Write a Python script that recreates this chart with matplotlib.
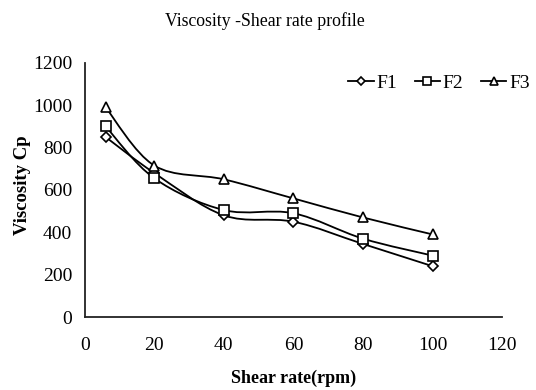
import numpy as np
import matplotlib
matplotlib.use('Agg')
import matplotlib.pyplot as plt
from matplotlib.path import Path
from matplotlib.patches import PathPatch
from matplotlib.lines import Line2D

# data
shear_rate = [6, 20, 40, 60, 80, 100]
f1 = [850, 680, 480, 450, 345, 240]
f2 = [900, 655, 505, 490, 370, 290]
f3 = [990, 715, 650, 560, 470, 390]
series_names = ['F1', 'F2', 'F3']
markers = ['D', 's', '^']
marker_sizes = [5, 7.5, 7.5]
legend_marker_sizes = [4, 5.5, 5.5]

plt.rcParams['font.family'] = ['Liberation Serif', 'DejaVu Serif']


def smooth_path(xs, ys):
    # bezier path through the points, like a spreadsheet "smoothed line"
    xs = np.asarray(xs, float)
    ys = np.asarray(ys, float)
    verts = [(xs[0], ys[0])]
    codes = [Path.MOVETO]
    n = len(xs)
    for i in range(n - 1):
        x0, y0 = (xs[i - 1], ys[i - 1]) if i > 0 else (xs[i], ys[i])
        x3, y3 = (xs[i + 2], ys[i + 2]) if i + 2 < n else (xs[i + 1], ys[i + 1])
        c1 = (xs[i] + (xs[i + 1] - x0) / 6, ys[i] + (ys[i + 1] - y0) / 6)
        c2 = (xs[i + 1] - (x3 - xs[i]) / 6, ys[i + 1] - (y3 - ys[i]) / 6)
        verts += [c1, c2, (xs[i + 1], ys[i + 1])]
        codes += [Path.CURVE4, Path.CURVE4, Path.CURVE4]
    return Path(verts, codes)


fig = plt.figure(figsize=(5.36, 3.90), dpi=100)
ax = fig.add_axes([0.158, 0.187, 0.779, 0.652])

handles = []
for name, vals, m, ms, lms in zip(series_names, [f1, f2, f3], markers,
                                  marker_sizes, legend_marker_sizes):
    patch = PathPatch(smooth_path(shear_rate, vals), facecolor='none',
                      edgecolor='black', lw=1.3, zorder=2)
    ax.add_patch(patch)
    ax.plot(shear_rate, vals, linestyle='none', marker=m, markersize=ms,
            markerfacecolor='white', markeredgecolor='black',
            markeredgewidth=1.2, zorder=3)
    handles.append(Line2D([], [], color='black', lw=1.3, marker=m,
                          markersize=lms, markerfacecolor='white',
                          markeredgecolor='black', markeredgewidth=1.2,
                          label=name))

ax.set_xlim(0, 120)
ax.set_ylim(0, 1200)
ax.set_xticks(np.arange(0, 121, 20))
ax.set_yticks(np.arange(0, 1201, 200))
ax.tick_params(length=0, labelsize=14)
ax.tick_params(axis='y', pad=9)
ax.tick_params(axis='x', pad=14)
for s in ['top', 'right']:
    ax.spines[s].set_visible(False)
for s in ['left', 'bottom']:
    ax.spines[s].set_linewidth(1.3)
    ax.spines[s].set_color('#222222')

ax.set_xlabel('Shear rate(rpm)', fontsize=13, fontweight='bold', labelpad=12)
ax.set_ylabel('Viscosity Cp', fontsize=13.5, fontweight='bold')
ax.yaxis.set_label_coords(-0.128, 0.52)

fig.text(0.494, 0.946, 'Viscosity -Shear rate profile', ha='center',
         va='center', fontsize=12.8)

ax.legend(handles=handles, loc='upper right', bbox_to_anchor=(1.085, 0.985),
          ncol=3, frameon=False, fontsize=14, handlelength=1.3,
          handletextpad=0.15, columnspacing=0.9, borderaxespad=0)

fig.savefig('out.png', dpi=100)
